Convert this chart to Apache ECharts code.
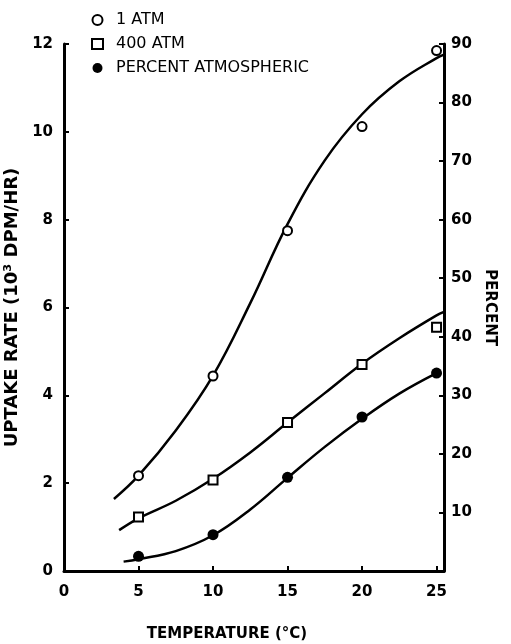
<!DOCTYPE html>
<html lang="en">
<head>
    <meta charset="UTF-8">
    <script src="https://cdn.jsdelivr.net/npm/echarts@6/dist/echarts.min.js"></script>
    <title>Uptake rate vs temperature</title>
    <style>
        body{ margin: 0; background: #fff; }
        #chart{ width: 511px; height: 644px; }
    </style>
</head>
<body>
<div id="chart"></div>
<script>
    // measured points (temperature in °C)
    let temps = [5, 10, 15, 20, 25];
    let atm1 = [2.17, 4.44, 7.75, 10.12, 11.85];      // 10^3 DPM/HR
    let atm400 = [1.23, 2.07, 3.38, 4.70, 5.55];      // 10^3 DPM/HR
    let percentAtm = [2.5, 6.2, 16.0, 26.3, 33.8];    // percent (right axis)

    // fitted curves: [temperature, value]
    let atm1Curve = [[3.35, 1.64], [5, 2.17], [7.5, 3.2], [10, 4.45], [12.5, 6.1], [15, 7.9],
                     [17.5, 9.35], [20, 10.4], [22.5, 11.15], [25, 11.68], [25.5, 11.76]];
    let atm400Curve = [[3.7, 0.93], [5, 1.2], [7.5, 1.6], [10, 2.1], [12.5, 2.7], [15, 3.38],
                       [17.5, 4.05], [20, 4.72], [22.5, 5.3], [25, 5.82], [25.5, 5.9]];
    let percentCurve = [[4.0, 1.6], [5, 2.0], [7.5, 3.4], [10, 6.1], [12.5, 10.5], [15, 15.9],
                        [17.5, 21.2], [20, 26.0], [22.5, 30.3], [25, 33.8]];

    let names = ['1 ATM', '400 ATM', 'PERCENT ATMOSPHERIC'];

    function pairs(xs, ys){
        return xs.map((x, i) => [x, ys[i]]);
    }

    let font = 'DejaVu Sans';
    let axisLine = { show: true, onZero: false, lineStyle: { color: '#000', width: 3 } };
    let axisTick = { show: true, inside: true, length: 5, lineStyle: { color: '#000', width: 2 } };
    let labelStyle = { color: '#000', fontFamily: font, fontSize: 15, fontWeight: 'bold' };

    function curve(data, yIndex){
        return {
            type: 'line',
            data: data,
            yAxisIndex: yIndex,
            smooth: 0.4,
            showSymbol: false,
            silent: true,
            z: 1,
            lineStyle: { color: '#000', width: 2.5 }
        };
    }

    var myChart = echarts.init(document.getElementById('chart'));
    myChart.setOption({
        animation: false,
        backgroundColor: '#fff',
        grid: { left: 64, right: 67, top: 44, bottom: 73, outerBoundsMode: 'none', containLabel: false },
        legend: {
            data: names,
            orient: 'vertical',
            left: 86,
            top: 7,
            itemWidth: 11,
            itemHeight: 10,
            itemGap: 8,
            selectedMode: false,
            textStyle: { color: '#000', fontFamily: font, fontSize: 16, padding: [0, 0, 0, 8] }
        },
        xAxis: {
            type: 'value',
            min: 0,
            max: 25.5,
            interval: 5,
            name: 'TEMPERATURE (°C)',
            nameLocation: 'middle',
            nameGap: 56,
            nameTextStyle: { color: '#000', fontFamily: font, fontSize: 15, fontWeight: 'bold', padding: [0, 54, 0, 0] },
            axisLine: axisLine,
            axisTick: axisTick,
            axisLabel: Object.assign({ margin: 14, formatter: v => (v % 5 === 0 ? v : '') }, labelStyle),
            splitLine: { show: false }
        },
        yAxis: [
            {
                type: 'value',
                min: 0,
                max: 12,
                interval: 2,
                position: 'left',
                name: 'UPTAKE RATE (10³ DPM/HR)',
                nameLocation: 'middle',
                nameRotate: 90,
                nameGap: 38,
                nameTextStyle: { color: '#000', fontFamily: font, fontSize: 18, fontWeight: 'bold' },
                axisLine: axisLine,
                axisTick: axisTick,
                axisLabel: Object.assign({ margin: 11 }, labelStyle),
                splitLine: { show: false }
            },
            {
                type: 'value',
                min: 0,
                max: 90,
                interval: 10,
                position: 'right',
                name: 'PERCENT',
                nameLocation: 'middle',
                nameRotate: -90,
                nameGap: 38,
                nameTextStyle: { color: '#000', fontFamily: font, fontSize: 15, fontWeight: 'bold' },
                axisLine: axisLine,
                axisTick: axisTick,
                axisLabel: Object.assign({ margin: 7, showMinLabel: false }, labelStyle),
                splitLine: { show: false }
            }
        ],
        series: [
            curve(atm1Curve, 0),
            curve(atm400Curve, 0),
            curve(percentCurve, 1),
            {
                name: names[0],
                type: 'scatter',
                data: pairs(temps, atm1),
                symbol: 'emptyCircle',
                symbolSize: 9,
                z: 3,
                itemStyle: { color: '#000', borderWidth: 2, opacity: 1 }
            },
            {
                name: names[1],
                type: 'scatter',
                data: pairs(temps, atm400),
                symbol: 'emptyRect',
                symbolSize: 9,
                z: 3,
                itemStyle: { color: '#000', borderWidth: 2, opacity: 1 }
            },
            {
                name: names[2],
                type: 'scatter',
                yAxisIndex: 1,
                data: pairs(temps, percentAtm),
                symbol: 'circle',
                symbolSize: 11,
                z: 3,
                itemStyle: { color: '#000', opacity: 1 }
            }
        ]
    });
</script>
</body>
</html>
